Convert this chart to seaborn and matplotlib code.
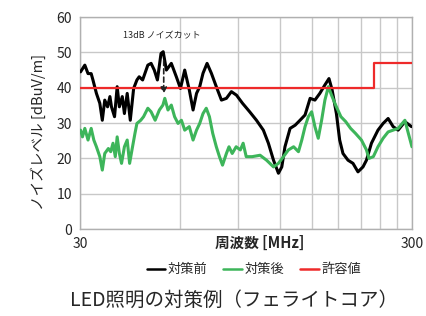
import matplotlib
matplotlib.use("Agg")
import matplotlib.pyplot as plt
import pandas as pd
import seaborn as sns
from matplotlib.lines import Line2D

# data (frequency in MHz, level in dBuV/m)
before_freq = [30.1, 31.0, 31.7, 32.4, 32.8, 33.6, 34.4, 35.0, 35.6, 36.3, 36.9, 37.3, 38.1,
               38.8, 39.4, 40.2, 40.8, 41.6, 42.5, 43.5, 44.5, 45.2, 46.3, 48.0, 49.1, 50.2,
               51.3, 52.6, 53.4, 54.6, 56.5, 58.5, 60.2, 62.0, 64.0, 65.7, 67.3, 68.8, 70.4,
               72.4, 74.6, 77.2, 80.0, 82.8, 85.7, 88.8, 92.6, 97.3, 102, 107, 110.8, 114.8,
               118.8, 121.6, 124.3, 128.8, 133.4, 138.0, 142.9, 148, 153, 158.3, 164, 168.7,
               172.4, 177.6, 181.7, 185.9, 192.5, 199.3, 206.3, 213.6, 218.8, 226.5, 237,
               245.6, 254.3, 263.3, 272.6, 285.7, 299]
before_level = [44.5, 46.4, 44.0, 44.0, 42.2, 38.4, 35.6, 30.8, 36.5, 34.6, 37.5, 34.6, 31.8,
                40.3, 34.6, 37.5, 32.7, 38.4, 30.8, 39.8, 42.2, 43.1, 42.2, 46.4, 46.9, 45.0,
                42.2, 49.7, 50.2, 45.0, 46.9, 43.1, 39.8, 45.0, 39.4, 33.7, 38.4, 40.3, 44.1,
                46.9, 44.1, 40.3, 36.5, 37.0, 38.9, 37.9, 35.6, 33.2, 30.8, 28.0, 24.3, 19.5,
                15.8, 17.6, 23.3, 28.5, 29.4, 30.8, 32.3, 37.0, 36.5, 38.4, 40.8, 42.6,
                39.4, 32.7, 25.2, 21.4, 19.5, 18.6, 16.2, 17.6, 19.5, 24.3, 28.0,
                29.9, 31.3, 29.0, 28.0, 30.4, 29.0]

after_freq = [30.1, 30.5, 31.0, 31.7, 32.4, 33.0, 33.6, 34.4, 35.0, 35.6, 36.5, 37.1, 37.7,
              38.3, 38.8, 39.4, 40.0, 40.8, 41.6, 42.3, 43.0, 43.9, 44.5, 45.7, 46.6, 48.0,
              49.1, 50.5, 52.0, 53.3, 54.0, 55.2, 56.5, 57.8, 59.2, 60.6, 62.0, 64.0, 65.7,
              67.3, 68.8, 70.4, 72.0, 73.6, 75.3, 77.2, 78.9, 80.6, 82.8, 84.3, 86.2, 88.6,
              91.2, 93.0, 95, 99, 104.6, 109.4, 114.8, 118.8, 123, 127.3, 132, 136.5, 139.7,
              142.9, 146.2, 149.6, 153, 156.6, 160.3, 164, 168, 171.7, 177.6, 183.3, 189.5,
              196, 202.7, 211.3, 218.8, 222.6, 229.5, 237, 245.6, 254.3, 263.3, 272.6,
              285.7, 292.6, 300]
after_level = [28.0, 26.1, 28.5, 25.2, 28.5, 25.2, 23.3, 20.5, 16.7, 21.4, 22.8, 21.9, 24.3,
               20.5, 26.1, 21.4, 18.6, 23.3, 25.2, 18.6, 22.4, 27.1, 29.9, 30.8, 31.8, 34.2,
               33.2, 30.8, 33.7, 35.1, 37.0, 33.7, 35.1, 31.8, 29.9, 30.8, 28.0, 29.0, 25.2,
               28.0, 29.9, 32.7, 34.2, 31.8, 27.1, 23.3, 20.5, 18.1, 21.4, 23.3, 21.4, 23.3,
               22.4, 24.3, 20.5, 20.5, 20.9, 19.5, 17.6, 18.6, 20.5, 22.4, 23.3, 21.9, 25.2,
               29.0, 31.8, 33.2, 29.0, 25.7, 30.8, 36.5, 40.3, 37.9, 34.6, 31.8, 30.4,
               28.5, 27.1, 25.2, 22.4, 20.0, 20.5, 23.3, 25.7, 27.5, 28.0, 28.5,
               30.8, 27.1, 23.3]

limit_freq = [30, 230, 230, 300]
limit_level = [40, 40, 47, 47]

series_names = ["対策前", "対策後", "許容値"]
series_colors = ["#000000", "#3db55a", "#ee2a2a"]

sns.set_style("white")
plt.rcParams["font.family"] = ["Noto Sans CJK JP", "DejaVu Sans"]

fig = plt.figure(figsize=(4.26, 3.16), dpi=100)
ax = fig.add_axes([0.188, 0.275, 0.779, 0.671])

df_before = pd.DataFrame({"freq": before_freq, "level": before_level})
df_after = pd.DataFrame({"freq": after_freq, "level": after_level})
df_limit = pd.DataFrame({"freq": limit_freq, "level": limit_level})

sns.lineplot(data=df_before, x="freq", y="level", ax=ax, color=series_colors[0],
             linewidth=2.2, sort=False, estimator=None, zorder=3)
sns.lineplot(data=df_after, x="freq", y="level", ax=ax, color=series_colors[1],
             linewidth=2.2, sort=False, estimator=None, zorder=4)
sns.lineplot(data=df_limit, x="freq", y="level", ax=ax, color=series_colors[2],
             linewidth=1.6, sort=False, estimator=None, zorder=5)

ax.set_xscale("log")
ax.set_xlim(30, 300)
ax.set_ylim(0, 60)
ax.set_xticks([30, 300])
ax.set_xticklabels(["30", "300"])
ax.set_xticks([60, 90, 120, 150, 180, 210, 240, 270], minor=True)
ax.xaxis.set_minor_formatter(matplotlib.ticker.NullFormatter())
ax.set_yticks(range(0, 61, 10))
ax.tick_params(axis="both", which="both", length=0, labelsize=10, pad=6)
ax.grid(True, which="both", color="#c8c8c8", linewidth=1)
for s in ax.spines.values():
    s.set_color("#b0b0b0")
    s.set_linewidth(1)
ax.set_xlabel("")
ax.set_ylabel("")

ax.annotate("", xy=(53.6, 37.5), xytext=(53.6, 48.5),
            arrowprops=dict(arrowstyle="-|>", color="#222222", linestyle=(0, (3, 2)),
                            linewidth=1.2, mutation_scale=9), zorder=6)
ax.text(53.0, 54.6, "13dB ノイズカット", fontsize=6.5, ha="center", va="center")

fig.text(0.089, 0.582, "ノイズレベル [dBuV/m]", rotation=90, fontsize=10.5,
         ha="center", va="center")
fig.text(0.610, 0.231, "周波数 [MHz]", fontsize=10.5, fontweight="bold",
         ha="center", va="center")

handles = [Line2D([], [], color=c, linewidth=1.8) for c in series_colors]
fig.legend(handles, series_names, loc="center", bbox_to_anchor=(0.596, 0.146),
           ncol=3, frameon=False, fontsize=9.5, handlelength=1.4, handletextpad=0.2,
           columnspacing=1.2)

fig.text(0.549, 0.051, "LED照明の対策例（フェライトコア）", fontsize=14,
         ha="center", va="center")

fig.savefig("out.png", dpi=100)
